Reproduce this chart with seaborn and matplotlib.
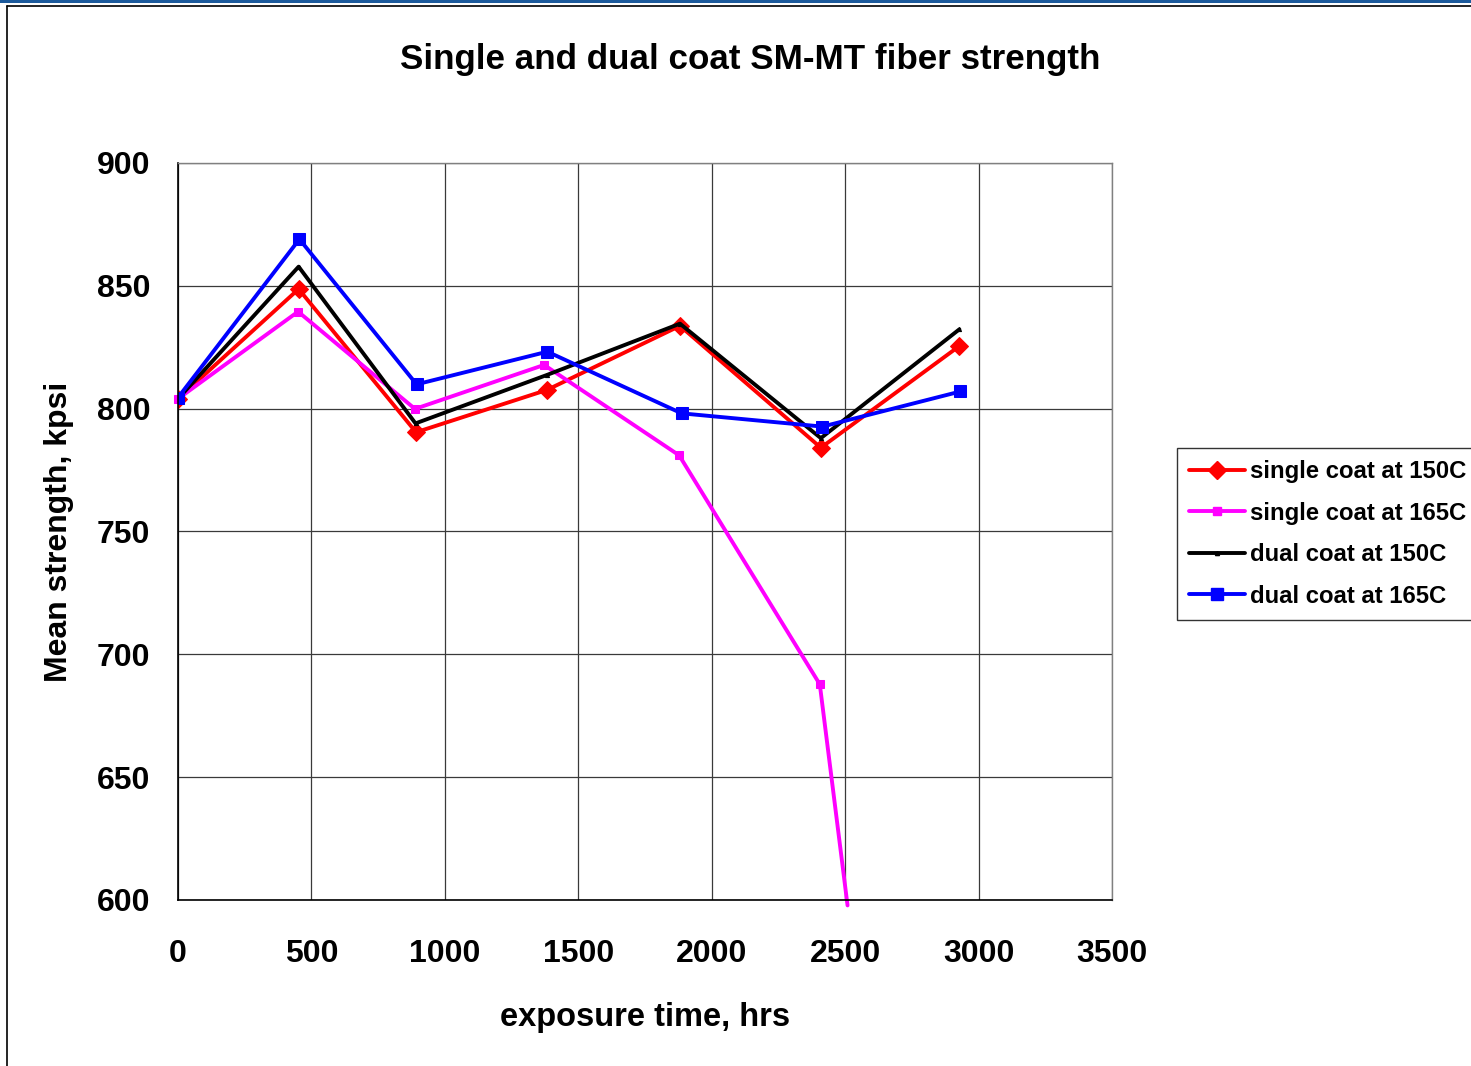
import matplotlib
matplotlib.use("Agg")
import matplotlib.pyplot as plt
import seaborn as sns
import numpy as np
from matplotlib.patches import Rectangle
from matplotlib.lines import Line2D

# ---- data ----
x_single150 = [0, 452, 892, 1382, 1881, 2409, 2928]
y_single150 = [804, 848.7, 790.4, 807.6, 833.7, 784.1, 825.5]

x_single165 = [0, 450, 888, 1372, 1878, 2405, 2509]
y_single165 = [804, 839.5, 799.9, 817.8, 781.0, 687.8, 597.8]

x_dual150 = [0, 452, 890, 1382, 1881, 2409, 2928]
y_dual150 = [804, 857.8, 794.0, 813.7, 834.6, 788.0, 832.3]

x_dual165 = [0, 455, 894, 1384, 1887, 2415, 2932]
y_dual165 = [804.5, 869.0, 809.9, 823.2, 798.1, 792.7, 807.0]

labels = ["single coat at 150C", "single coat at 165C", "dual coat at 150C", "dual coat at 165C"]
title = "Single and dual coat SM-MT fiber strength"
xlabel = "exposure time, hrs"
ylabel = "Mean strength, kpsi"
xticks = [0, 500, 1000, 1500, 2000, 2500, 3000, 3500]
yticks = [600, 650, 700, 750, 800, 850, 900]

sns.set_theme(style="white")
plt.rcParams['font.family'] = ['Liberation Sans', 'DejaVu Sans']
plt.rcParams['font.weight'] = 'bold'
plt.rcParams['text.color'] = 'black'
plt.rcParams['axes.labelcolor'] = 'black'
plt.rcParams['xtick.color'] = 'black'
plt.rcParams['ytick.color'] = 'black'

fig = plt.figure(figsize=(14.71, 10.66), dpi=100)
ax = fig.add_axes([178/1471, 1-900/1066, (1112-178)/1471, (900-163)/1066])

series = [
    (x_single150, y_single150, "#ff0000", "D", 9),
    (x_single165, y_single165, "#ff00ff", "s", 6),
    (x_dual150, y_dual150, "#000000", "^", 3),
    (x_dual165, y_dual165, "#0000ff", "s", 9),
]

for (xs, ys, c, m, ms), lab in zip(series, labels):
    sns.lineplot(x=xs, y=ys, ax=ax, color=c, marker=m, markersize=ms,
                 markeredgecolor=c, markerfacecolor=c, linewidth=2.8,
                 sort=False, estimator=None, label=lab, legend=False)

# magenta line continues a bit past the floor, without final marker
mag = ax.lines[1]
mag.set_clip_on(False)
mag.set_markevery(list(range(len(x_single165) - 1)))

ax.set_xlim(0, 3500)
ax.set_ylim(600, 900)
ax.set_xticks(xticks)
ax.set_yticks(yticks)
ax.set_xticklabels([str(t) for t in xticks], fontsize=23, fontweight='bold', color='black')
ax.set_yticklabels([str(t) for t in yticks], fontsize=23, fontweight='bold', color='black')
ax.grid(True, color='#3a3a3a', linewidth=0.9)
ax.set_axisbelow(True)
ax.tick_params(axis='both', direction='out', length=7, width=1, color='black')
ax.tick_params(axis='y', pad=13)
ax.tick_params(axis='x', pad=21)
for s in ['top', 'right']:
    ax.spines[s].set_color('#808080')
    ax.spines[s].set_linewidth(1)
for s in ['left', 'bottom']:
    ax.spines[s].set_color('black')
    ax.spines[s].set_linewidth(1.2)

ax.set_xlabel(xlabel, fontsize=23.5, fontweight='bold', labelpad=24, color='black')
ax.set_ylabel(ylabel, fontsize=23, fontweight='bold', labelpad=16, color='black')

fig.text(750/1471, 1-60/1066, title, ha='center', va='center', fontsize=25.2,
         fontweight='bold', color='black')

handles = [Line2D([0], [0], color=c, marker=m, markersize=ms, markeredgecolor=c,
                  markerfacecolor=c, linewidth=2.8) for (_, _, c, m, ms) in series]
leg = fig.legend(handles, labels, loc='upper left', bbox_to_anchor=(1177/1471, 1-448/1066),
                 frameon=True, fancybox=False, edgecolor='black', borderaxespad=0,
                 handlelength=2.35, labelspacing=0.78, borderpad=0.5, handletextpad=0.2,
                 prop={'weight': 'bold', 'size': 17.2, 'family': ['Liberation Sans']})
leg.get_frame().set_linewidth(1)
for t in leg.get_texts():
    t.set_color('black')

# outer chart frame
fig.patches.append(Rectangle((0, 1-3/1066), 1, 3/1066, transform=fig.transFigure,
                             facecolor='#1c5a9c', edgecolor='none'))
fig.lines.append(Line2D([7/1471, 1], [1-5.5/1066, 1-5.5/1066], transform=fig.transFigure,
                        color='black', linewidth=1.2))
fig.lines.append(Line2D([7/1471, 7/1471], [0, 1-5.5/1066], transform=fig.transFigure,
                        color='black', linewidth=1.2))

fig.savefig("out.png", dpi=100)
